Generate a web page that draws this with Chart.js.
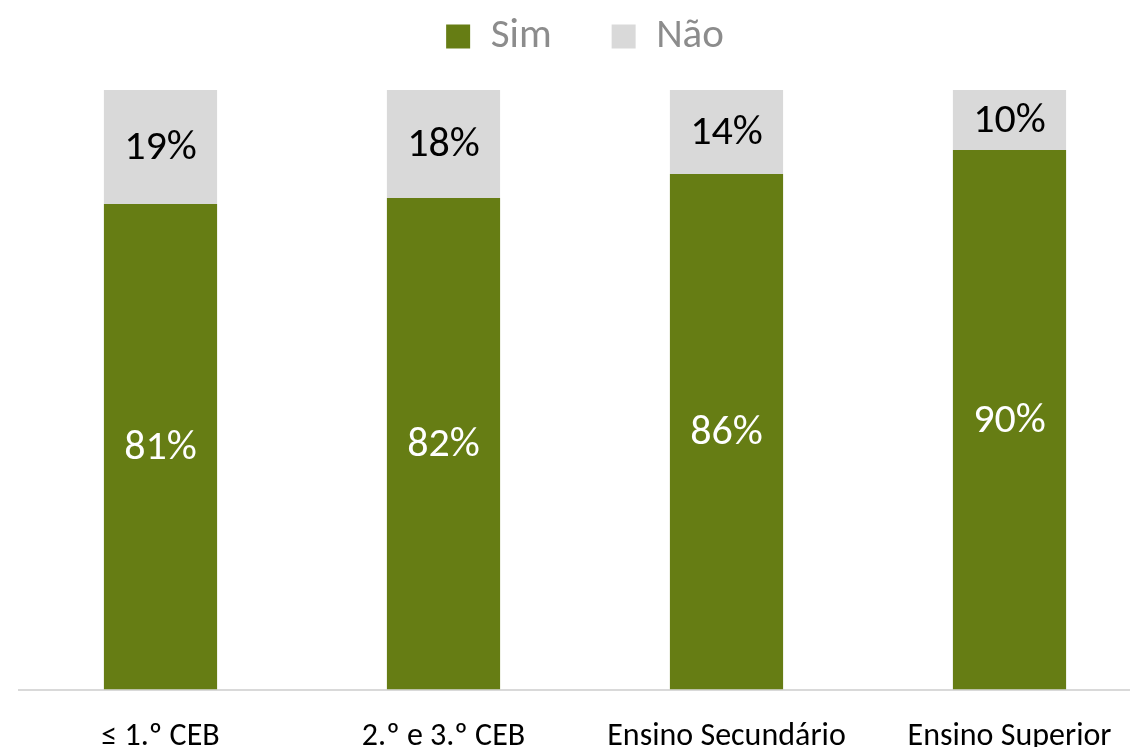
<!DOCTYPE html>
<html lang="pt">
<head>
  <meta charset="UTF-8">
  <title>Sim / Não por escolaridade</title>
  <script src="https://cdn.jsdelivr.net/npm/chart.js"></script>
  <style>
    html, body { margin: 0; padding: 0; overflow: hidden; background: #fff; }
    #wrap { position: absolute; left: 0; top: 0; width: 1151px; height: 747px; }
  </style>
</head>
<body>
<div id="wrap"><canvas id="myChart"></canvas></div>
<script>
  const categories = ['≤ 1.º CEB', '2.º e 3.º CEB', 'Ensino Secundário', 'Ensino Superior'];
  const simValues = [81, 82, 86, 90];
  const naoValues = [19, 18, 14, 10];

  const FONT = "Carlito, Lato, 'Open Sans', sans-serif";

  // draw the percentage inside each segment
  const segmentLabels = {
    id: 'segmentLabels',
    afterDatasetsDraw(chart) {
      const ctx = chart.ctx;
      ctx.save();
      ctx.textAlign = 'center';
      ctx.textBaseline = 'middle';
      ctx.font = '42px ' + FONT;
      chart.data.datasets.forEach((ds, i) => {
        chart.getDatasetMeta(i).data.forEach((bar, j) => {
          const mid = (bar.y + bar.base) / 2;
          ctx.fillStyle = ds.labelColor;
          ctx.fillText(ds.data[j] + '%', bar.x, mid + 2);
        });
      });
      ctx.restore();
    }
  };

  // fixed height for the legend block so the plot starts lower
  const legendHeight = {
    id: 'legendHeight',
    beforeInit(chart) {
      const fit = chart.legend.fit;
      chart.legend.fit = function () {
        fit.bind(chart.legend)();
        this.height = 134;
      };
    }
  };

  const ctx = document.getElementById('myChart').getContext('2d');
  const myChart = new Chart(ctx, {
    type: 'bar',
    data: {
      labels: categories,
      datasets: [
        {
          label: 'Sim',
          data: simValues,
          backgroundColor: '#667d14',
          labelColor: '#ffffff',
          categoryPercentage: 1,
          barPercentage: 0.4
        },
        {
          label: 'Não',
          data: naoValues,
          backgroundColor: '#d9d9d9',
          labelColor: '#000000',
          categoryPercentage: 1,
          barPercentage: 0.4
        }
      ]
    },
    options: {
      responsive: true,
      maintainAspectRatio: false,
      animation: false,
      layout: { padding: { left: 19, right: 0, top: -44, bottom: -29 } },
      plugins: {
        legend: {
          position: 'top',
          labels: {
            boxWidth: 24,
            boxHeight: 24,
            padding: 60,
            color: '#8c8c8c',
            font: { family: FONT, size: 41 }
          }
        },
        tooltip: { enabled: false }
      },
      scales: {
        x: {
          stacked: true,
          grid: { display: false },
          border: { color: '#d9d9d9', width: 2 },
          ticks: {
            color: '#000000',
            padding: 20,
            maxRotation: 0,
            font: { family: FONT, size: 32 }
          }
        },
        y: {
          stacked: true,
          display: false,
          min: 0,
          max: 100
        }
      }
    },
    plugins: [segmentLabels, legendHeight]
  });
</script>
</body>
</html>
